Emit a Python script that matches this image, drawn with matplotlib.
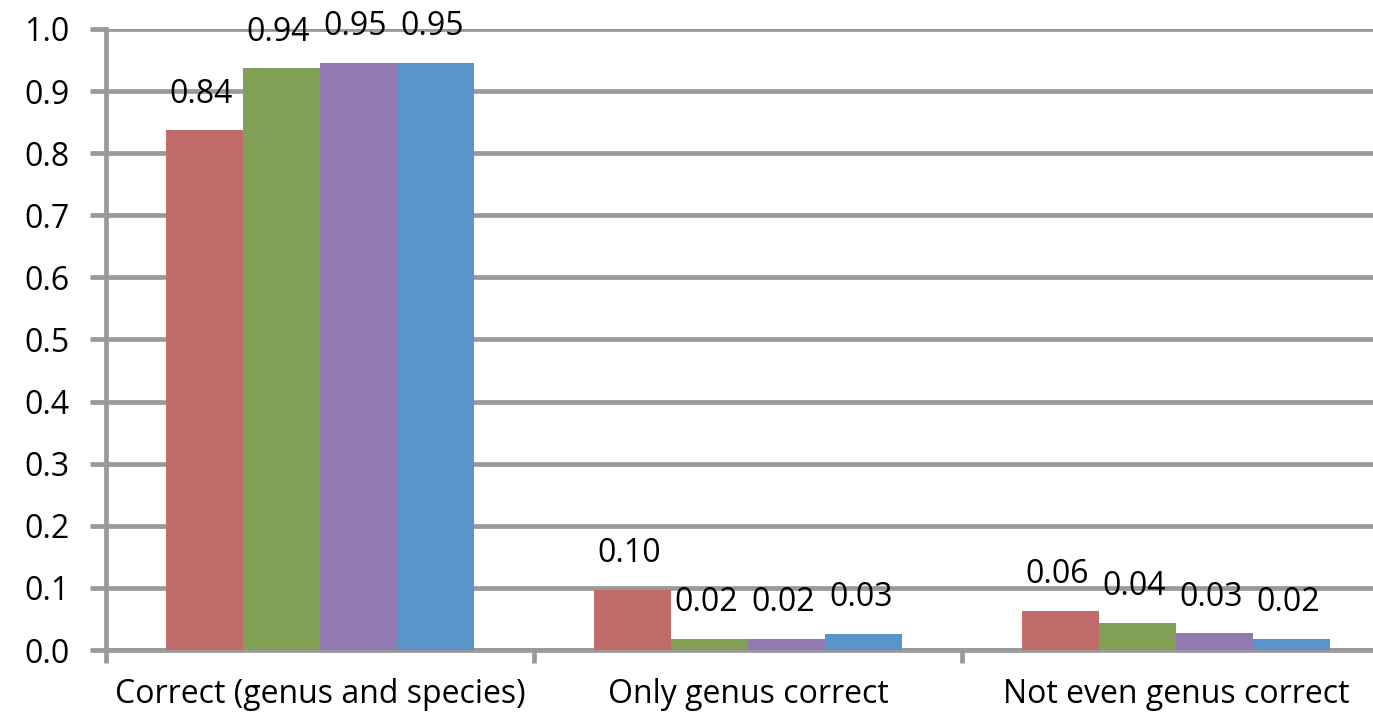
import matplotlib.pyplot as plt
import numpy as np

plt.rcParams['font.family'] = ['Open Sans', 'DejaVu Sans']

categories = ['Correct (genus and species)', 'Only genus correct', 'Not even genus correct']
series_1 = [0.837, 0.097, 0.063]
series_2 = [0.937, 0.018, 0.044]
series_3 = [0.946, 0.018, 0.027]
series_4 = [0.946, 0.026, 0.018]
colors = ['#C06C6A', '#7FA055', '#907AB1', '#5B94C8']
yticks = np.arange(0, 1.01, 0.1)

grid_c = '#999999'
lw = 3.4
fs = 23
fig = plt.figure(figsize=(13.73, 7.17), dpi=100)
ax = fig.add_axes([0.0772, 0.0934, 0.9228, 0.8662])

x = np.arange(len(categories))
w = 0.18
for i, vals in enumerate([series_1, series_2, series_3, series_4]):
    pos = x + (i - 1.5) * w
    bars = ax.bar(pos, vals, w, color=colors[i], zorder=3)
    for b, v in zip(bars, vals):
        ax.annotate(f'{v:.2f}', (b.get_x() + b.get_width() / 2, v),
                    xytext=(-3, 36), textcoords='offset pixels',
                    ha='center', va='center', fontsize=fs, zorder=4,
                    annotation_clip=False)

ax.set_xlim(-0.5, 2.46)
ax.set_ylim(0, 1.0)
ax.set_yticks(yticks)
ax.set_yticklabels([f'{t:.1f}' for t in yticks], fontsize=fs)
ax.yaxis.grid(True, color=grid_c, linewidth=lw, zorder=0)
ax.tick_params(axis='y', length=11.5, width=lw, color=grid_c, pad=15)

ax.set_xticks(x)
ax.set_xticklabels(categories, fontsize=fs)
ax.tick_params(axis='x', length=0, pad=20)
ax.set_xticks([-0.5, 0.5, 1.5], minor=True)
ax.tick_params(axis='x', which='minor', length=9, width=lw, color=grid_c)

for s in ['top', 'right']:
    ax.spines[s].set_visible(False)
ax.spines['left'].set_color(grid_c)
ax.spines['left'].set_linewidth(lw)
ax.spines['bottom'].set_color(grid_c)
ax.spines['bottom'].set_linewidth(lw)

fig.savefig('out.png', dpi=100)
